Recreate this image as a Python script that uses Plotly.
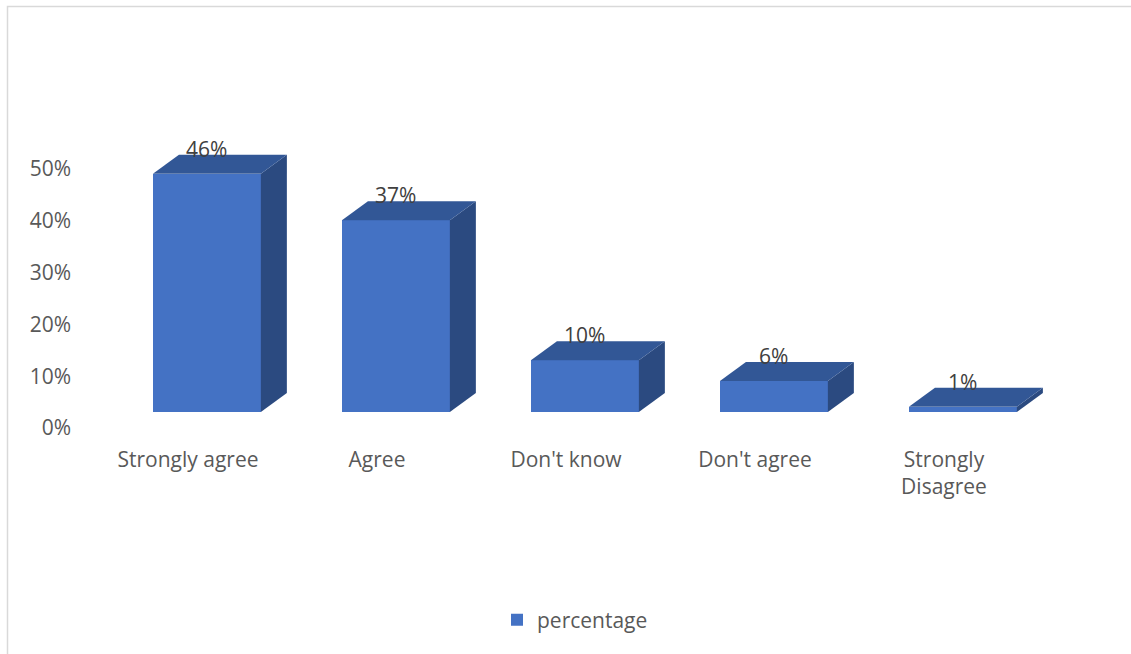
import plotly.graph_objects as go

categories = ["Strongly agree", "Agree", "Don't know", "Don't agree", "Strongly<br>Disagree"]
values = [0.46, 0.37, 0.10, 0.06, 0.01]
labels = ["46%", "37%", "10%", "6%", "1%"]
tick_vals = [0, 0.1, 0.2, 0.3, 0.4, 0.5]
tick_text = ["0%", "10%", "20%", "30%", "40%", "50%"]
series_name = "percentage"

W, H = 1131, 654
FRONT = "#4472C4"
TOP = "#325796"
SIDE = "#2B4A80"
TXT = "#595959"
FONT = "Open Sans"
FS = 21

# geometry (axis units)
bar_w = 0.571
shift = 0.10          # front face centre offset from category centre
dx = 26 / 189         # depth offset in x units
dy = 19 / 518         # depth offset in y units

# layout in pixels -> axis ranges
px_per_cat = 189
cat0_px = 188
x_left_px = 72
x_range = [(x_left_px - cat0_px) / px_per_cat, (W - cat0_px) / px_per_cat]
y_bottom_px = 445
px_per_unit = 518
bar_zero_px = 412
lab_zero_px = 428
y_range = [-(y_bottom_px - bar_zero_px) / px_per_unit, bar_zero_px / px_per_unit]
label_offset = (lab_zero_px - bar_zero_px) / px_per_unit  # back-wall labels sit lower

fig = go.Figure()

xs = list(range(len(categories)))
fig.add_trace(go.Bar(
    x=xs, y=values, width=bar_w, offset=shift - bar_w / 2,
    marker=dict(color=FRONT, line=dict(width=0)),
    name=series_name, showlegend=True, hoverinfo="skip",
))

for i, v in zip(xs, values):
    xl = i + shift - bar_w / 2
    xr = i + shift + bar_w / 2
    # side face
    fig.add_trace(go.Scatter(
        x=[xr, xr + dx, xr + dx, xr, xr], y=[0, dy, v + dy, v, 0],
        fill="toself", fillcolor=SIDE, mode="lines", line=dict(width=0, color=SIDE),
        showlegend=False, hoverinfo="skip",
    ))
    # top face
    fig.add_trace(go.Scatter(
        x=[xl, xl + dx, xr + dx, xr, xl], y=[v, v + dy, v + dy, v, v],
        fill="toself", fillcolor=TOP, mode="lines", line=dict(width=0, color=TOP),
        showlegend=False, hoverinfo="skip",
    ))

annotations = []
for i, v, t in zip(xs, values, labels):
    annotations.append(dict(
        x=i + shift, y=v + dy, xref="x", yref="y", text=t, showarrow=False,
        yanchor="middle", yshift=6, font=dict(family=FONT, size=FS, color="#404040"),
    ))

fig.update_layout(
    width=W, height=H,
    margin=dict(l=0, r=0, t=0, b=0),
    paper_bgcolor="white", plot_bgcolor="rgba(0,0,0,0)",
    font=dict(family=FONT, size=FS, color=TXT),
    bargap=0,
    xaxis=dict(
        domain=[x_left_px / W, 1], range=x_range,
        tickvals=xs, ticktext=categories, showgrid=False, zeroline=False,
        showline=False, ticks="", tickfont=dict(family=FONT, size=FS, color=TXT),
        fixedrange=True,
    ),
    yaxis=dict(
        domain=[1 - y_bottom_px / H, 1], range=y_range,
        tickvals=[t - label_offset for t in tick_vals], ticktext=tick_text,
        showgrid=False, zeroline=False,
        showline=False, ticks="", tickfont=dict(family=FONT, size=FS, color=TXT),
        fixedrange=True,
    ),
    legend=dict(
        orientation="h", x=575 / W, y=1 - 620 / H, xanchor="center", yanchor="middle",
        font=dict(family=FONT, size=FS, color=TXT), bgcolor="rgba(0,0,0,0)",
    ),
    annotations=annotations,
    shapes=[dict(
        type="rect", xref="paper", yref="paper",
        x0=7.5 / W, x1=1.02, y0=-0.02, y1=1 - 6.5 / H,
        line=dict(color="#D9D9D9", width=1.5), layer="below",
    )],
)

fig.write_html("out.html")
